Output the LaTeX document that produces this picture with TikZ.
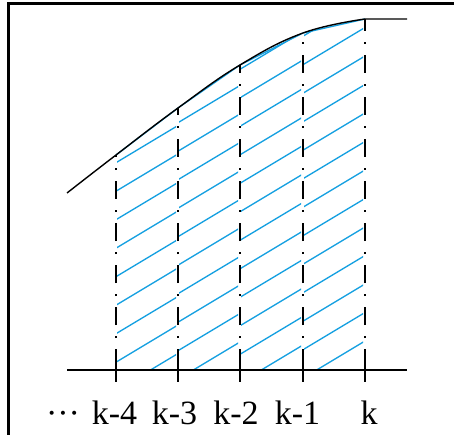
\documentclass[tikz,border=0pt]{standalone}
\usepackage{fontspec}
\setmainfont{Liberation Serif}
\definecolor{hatchblue}{RGB}{20,160,225}
\begin{document}
\begin{tikzpicture}[x=1pt,y=-1pt,
  blk/.style={line width=1.6pt,black},
  crv/.style={line width=1.4pt,black},
  dd/.style={line width=1.6pt,black,dash pattern=on 18pt off 11pt on 2pt off 11pt},
  hl/.style={line width=1.3pt,hatchblue},
  lbl/.style={font=\fontsize{34}{40}\selectfont, anchor=base, inner sep=0pt}]
\useasboundingbox (0,0) rectangle (454,435);
\fill[white] (0,0) rectangle (454,435);
% frame
\draw[line width=3pt] (8.5,436) -- (8.5,4) -- (455,4);
% points on the curve
\coordinate (p0) at (116,155);
\coordinate (p1) at (178,108);
\coordinate (p2) at (240,65);
\coordinate (p3) at (303,33);
\coordinate (p4) at (365,19);
\coordinate (b0) at (116,369);
\coordinate (b1) at (178,369);
\coordinate (b2) at (240,369);
\coordinate (b3) at (303,369);
\coordinate (b4) at (365,369);
% hatching, strip by strip
\foreach \i/\j/\xl/\xr/\ybase in {0/1/116/178/353.5, 1/2/178/240/342, 2/3/240/303/345, 3/4/303/365/341}{
  \begin{scope}
    \clip (b\i) -- (p\i) -- (p\j) -- (b\j) -- cycle;
    \clip (\xl+1,0) rectangle (\xr-2,440);
    \foreach \k in {0,...,13}{
      \draw[hl] (\xr,\ybase-28.5*\k) -- ++(-90,54);
    }
  \end{scope}
}
% chords
\draw[hl] (p0) -- (p1) -- (p2) -- (p3) -- (p4);
% curve
\draw[crv] plot[smooth,tension=0.7] coordinates {(67,193) (116,155) (178,108) (240,65) (303,33) (365,19)} -- (407,19);
% axis
\draw[blk] (67,370) -- (407,370);
% dash-dot verticals and ticks
\foreach \i/\x in {0/116,1/178,2/240,3/303,4/365}{
  \draw[dd] (\x,367) -- (p\i);
  \draw[blk] (\x,360) -- (\x,382);
}
% labels
\node[lbl] (ldots) at (63,424) {···};
\node[lbl] (l4) at (114.5,424) {k-4};
\node[lbl] (l3) at (174.5,424) {k-3};
\node[lbl] (l2) at (236,424) {k-2};
\node[lbl] (l1) at (297.5,424) {k-1};
\node[lbl] (l0) at (369,424) {k};
\end{tikzpicture}
\end{document}
